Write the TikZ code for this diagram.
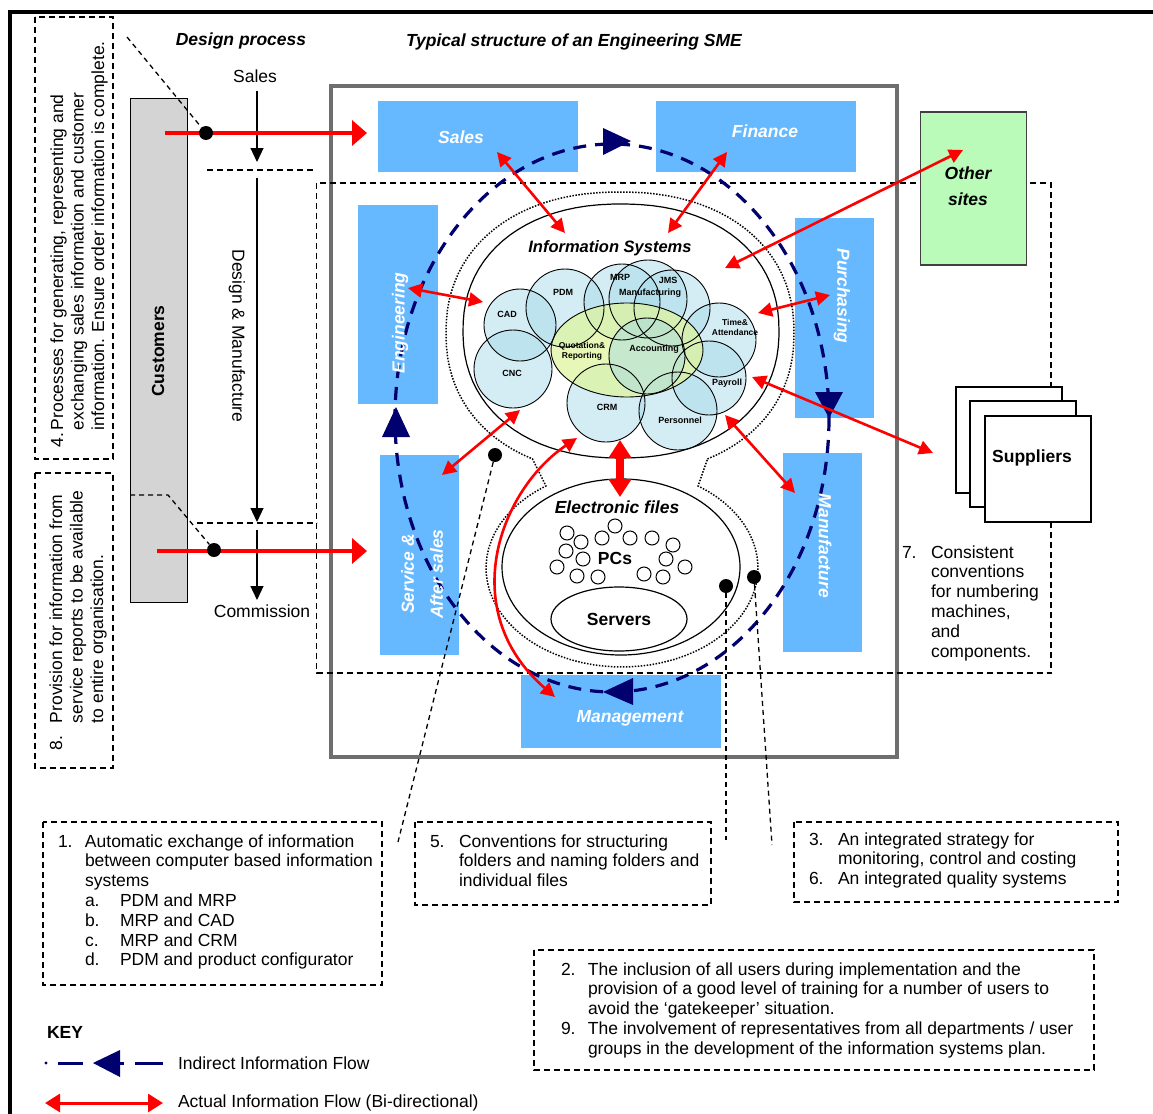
\documentclass[tikz,border=0pt]{standalone}
\usepackage{fontspec}
\setmainfont{Liberation Sans}
\usepackage{array}
\usetikzlibrary{arrows.meta,shapes.geometric}
\definecolor{boxblue}{RGB}{102,184,255}
\definecolor{sitegreen}{RGB}{186,251,186}
\definecolor{custgray}{RGB}{212,212,212}
\definecolor{navyblue}{RGB}{0,0,110}
\definecolor{framegray}{RGB}{110,110,110}
\definecolor{iscyan}{RGB}{160,215,230}
\definecolor{quoteyel}{RGB}{222,244,160}
\newcommand{\bsz}{\fontsize{17.5}{19.8}\selectfont}
\newcommand{\lblsz}{\fontsize{9}{10}\selectfont\bfseries}
\begin{document}
\begin{tikzpicture}[x=1pt,y=-1pt,
  txt/.style={inner sep=0pt, outer sep=0pt, font=\bsz},
  dbox/.style={draw=black, line width=1.1pt, dash pattern=on 6pt off 4pt},
  bluebox/.style={fill=boxblue, draw=none, inner sep=0pt, outer sep=0pt},
  blbl/.style={inner sep=0pt, text=white, font=\bsz\bfseries\itshape, align=center},
  redarr/.style={draw=red, line width=2.6pt, {Triangle[length=14pt,width=14pt]}-{Triangle[length=14pt,width=14pt]}},
  redone/.style={draw=red, line width=4.5pt, -{Triangle[length=15pt,width=25pt]}},
  blkarr/.style={draw=black, line width=1.2pt, -{Triangle[length=14pt,width=13pt]}},
  isc/.style={fill=iscyan, fill opacity=0.45},
  islbl/.style={inner sep=0pt, font=\lblsz, align=center},
  blackdot/.style={circle, fill=black, inner sep=0pt, minimum size=14pt},
  leader/.style={draw=black, line width=1.3pt, dash pattern=on 5pt off 4pt},
  navyline/.style={draw=navyblue, line width=3.2pt, dash pattern=on 13pt off 9pt},
  pc/.style={draw=black, line width=1pt, fill=white}
]
\useasboundingbox (0,0) rectangle (1153,1113);
% outer frame
\draw[line width=4pt] (9.5,1130) -- (9.5,12.5) -- (1170,12.5);

% side boxes 4 and 8
\draw[dbox] (35,17) rectangle (113,459);
\node[txt, rotate=90, anchor=base west, font=\fontsize{17.5}{20.5}\selectfont] (t4) at (63,447)
 {\begin{tabular}[t]{@{}p{17pt}@{}l@{}}4.&Processes for generating, representing and\\&exchanging sales information and customer\\&information. Ensure order information is complete.\end{tabular}};
\draw[dbox] (35,473) rectangle (113,768);
\node[txt, rotate=90, anchor=base west, font=\fontsize{17.5}{20.5}\selectfont] (t8) at (62,750)
 {\begin{tabular}[t]{@{}p{27pt}@{}l@{}}8.&Provision for information from\\&service reports to be available\\&to entire organisation.\end{tabular}};

% titles
\node[txt, font=\bsz\bfseries\itshape] (dp) at (241,41) {Design process};
\node[txt, font=\bsz\bfseries\itshape] (ts) at (574,42) {Typical structure of an Engineering SME};

% customers
\node[draw=black, line width=1pt, fill=custgray, minimum width=57pt, minimum height=503pt, inner sep=0pt] (cust) at (158.5,350.5) {};
\node[txt, rotate=90, font=\bsz\bfseries] (custl) at (158,351) {Customers};

% design process column
\node[txt] (dsales) at (255,76) {Sales};
\coordinate (a1s) at (257,91); \coordinate (a1e) at (257,162);
\coordinate (a2s) at (257,178); \coordinate (a2e) at (257,522);
\coordinate (a3s) at (257,530); \coordinate (a3e) at (257,600);
\draw[blkarr] (a1s) -- (a1e);
\draw[dbox] (207,170) -- (313,170);
\draw[blkarr] (a2s) -- (a2e);
\draw[dbox] (197,523) -- (317,523);
\draw[blkarr] (a3s) -- (a3e);
\node[txt] (comm) at (262,611) {Commission};
\node[txt, rotate=-90] (dm) at (237,336) {Design \& Manufacture};

% grey frame and dashed region
\draw[framegray, line width=4pt] (331,86) rectangle (897,757);
\draw[dbox] (316.5,183) rectangle (1051,673);

% blue boxes
\node[bluebox, minimum width=200pt, minimum height=71pt] (sales) at (478,136.5) {};
\node[bluebox, minimum width=200pt, minimum height=71pt] (fin) at (756,136.5) {};
\node[bluebox, minimum width=80pt, minimum height=199pt] (eng) at (398,304.5) {};
\node[bluebox, minimum width=79pt, minimum height=200pt] (serv) at (419.5,555) {};
\node[bluebox, minimum width=79pt, minimum height=200pt] (purch) at (834.5,318) {};
\node[bluebox, minimum width=79pt, minimum height=199pt] (manu) at (822.5,552.5) {};
\node[bluebox, minimum width=200pt, minimum height=73pt] (mgmt) at (621,711.5) {};

% other sites and suppliers
\node[draw=black!75, line width=1.2pt, fill=sitegreen, minimum width=106pt, minimum height=153pt, inner sep=0pt] (other) at (973.5,188.5) {};
\node[txt, font=\fontsize{17.5}{26}\selectfont\bfseries\itshape, align=center] (otherl) at (968,186) {Other\\sites};
\draw[line width=1.2pt, fill=white] (956,387) rectangle (1062,493);
\draw[line width=1.2pt, fill=white] (970,401) rectangle (1076,507);
\node[draw, line width=1.2pt, fill=white, minimum width=106pt, minimum height=106pt, inner sep=0pt] (supp) at (1038,469) {};
\node[txt, font=\bsz\bfseries] (suppl) at (1032,458) {Suppliers};

% text 7
\node[txt, anchor=base west] (t7) at (902,558)
 {\begin{tabular}[t]{@{}p{29pt}@{}l@{}}7.&Consistent\\&conventions\\&for numbering\\&machines,\\&and\\&components.\end{tabular}};

% peanut dotted outline
\draw[line width=1.5pt, dash pattern=on 1.5pt off 1.5pt]
  plot[variable=\t, domain=-62:242, samples=80]
   ({620+174*sign(cos(\t))*max(abs(cos(\t)),0.0001)^0.909}, {333-141*sign(sin(\t))*max(abs(sin(\t)),0.0001)^0.909})
  -- plot[variable=\t, domain=124:416, samples=60] ({622+136*cos(\t)}, {568-99*sin(\t)}) -- cycle;
% information systems outline
\draw[line width=1.2pt]
  plot[variable=\t, domain=0:358, samples=90]
   ({621+158*sign(cos(\t))*max(abs(cos(\t)),0.0001)^0.909}, {331-127*sign(sin(\t))*max(abs(sin(\t)),0.0001)^0.909}) -- cycle;

% IS circles
\foreach \cx/\cy/\r in {520/325/36, 513/369/39, 565/308/39, 622/302/38, 648/299/39, 672/308/38, 719/340/37, 709/378/37, 678/411/39, 606/403/39}
  {\path[isc] (\cx,\cy) circle [radius=\r];}
\path[fill=quoteyel, fill opacity=0.75] (627,350) ellipse [x radius=76, y radius=47];
\path[isc] (647,356) circle [radius=38];
\foreach \cx/\cy/\r in {520/325/36, 513/369/39, 565/308/39, 622/302/38, 648/299/39, 672/308/38, 719/340/37, 709/378/37, 678/411/39, 606/403/39, 647/356/38}
  {\draw[line width=0.9pt] (\cx,\cy) circle [radius=\r];}
\draw[line width=0.9pt] (627,350) ellipse [x radius=76, y radius=47];
\node[txt, font=\fontsize{16.5}{18}\selectfont\bfseries\itshape] (isl) at (610,248) {Information Systems};
\node[islbl] (cad) at (507,314) {CAD};
\node[islbl] (cnc) at (512,373) {CNC};
\node[islbl] (pdm) at (563,292) {PDM};
\node[islbl] (mrp) at (620,277) {MRP};
\node[islbl] (jms) at (668,280) {JMS};
\node[islbl] (mfg) at (650,293) {Manufacturing};
\node[islbl, font=\fontsize{8.5}{10}\selectfont\bfseries] (time) at (735,327) {Time\&\\Attendance};
\node[islbl, font=\fontsize{8.5}{10}\selectfont\bfseries] (quot) at (582,351) {Quotation\&\\Reporting};
\node[islbl] (acc) at (654,349) {Accounting};
\node[islbl] (pay) at (727,383) {Payroll};
\node[islbl] (crm) at (607,407) {CRM};
\node[islbl] (pers) at (680,420) {Personnel};

% electronic files
\node[draw, ellipse, line width=1.2pt, minimum width=238pt, minimum height=176pt, inner sep=0pt] (ef) at (621,567) {};
\node[txt, font=\bsz\bfseries\itshape] (efl) at (617,507) {Electronic files};
\foreach \px/\py [count=\i] in {567/533,581/542,602/538,615/526,630/538,652/538,673/545,566/551,583/559,557/567,577/576,598/577,644/574,663/577,666/559,685/567}
  {\node[pc, circle, inner sep=0pt, minimum size=14pt] (pc\i) at (\px,\py) {};}
\node[txt, font=\bsz\bfseries] (pcs) at (615,558) {PCs};
\node[draw, ellipse, line width=1.2pt, minimum width=136pt, minimum height=64pt, inner sep=0pt, font=\bsz\bfseries] (srv) at (619,619) {Servers};

% indirect information flow
\draw[navyline] (612,418) ellipse [x radius=217, y radius=274];
\fill[navyblue] (603,128) -- (603,155) -- (631,141) -- cycle;
\fill[navyblue] (815,392) -- (843,392) -- (829,418) -- cycle;
\fill[navyblue] (633,678) -- (633,705) -- (603,692) -- cycle;
\fill[navyblue] (382,437) -- (410,437) -- (396,407) -- cycle;

% blue box labels
\node[blbl] (salesl) at (461,137) {Sales};
\node[blbl] (finl) at (765,131) {Finance};
\node[blbl, rotate=90] (engl) at (400,323) {Engineering};
\node[blbl, rotate=90, font=\fontsize{17.5}{29}\selectfont\bfseries\itshape] (servl) at (422,574) {Service \&\\After sales};
\node[blbl, rotate=-90] (purchl) at (842,296) {Purchasing};
\node[blbl, rotate=-90] (manul) at (825,546) {Manufacture};
\node[blbl] (mgmtl) at (630,718) {Management};

% actual information flows
\coordinate (r1a) at (497,152); \coordinate (r1b) at (565,233);
\coordinate (r2a) at (727,152); \coordinate (r2b) at (668,233);
\coordinate (r3a) at (725,268); \coordinate (r3b) at (963,150);
\coordinate (r4a) at (408,288); \coordinate (r4b) at (483,302);
\coordinate (r5a) at (758,313); \coordinate (r5b) at (830,295);
\coordinate (r6a) at (752,377); \coordinate (r6b) at (933,453);
\coordinate (r7a) at (725,415); \coordinate (r7b) at (795,493);
\coordinate (r8a) at (442,475); \coordinate (r8b) at (520,410);
\coordinate (r9a) at (620,440); \coordinate (r9b) at (620,497);
\coordinate (r10a) at (577,438); \coordinate (r10b) at (555,697);
\draw[redarr] (r1a) -- (r1b);
\draw[redarr] (r2a) -- (r2b);
\draw[redarr] (r3a) -- (r3b);
\draw[redarr] (r4a) -- (r4b);
\draw[redarr] (r5a) -- (r5b);
\draw[redarr] (r6a) -- (r6b);
\draw[redarr] (r7a) -- (r7b);
\draw[redarr] (r8a) -- (r8b);
\draw[draw=red, line width=8pt, {Triangle[length=18pt,width=22pt]}-{Triangle[length=18pt,width=22pt]}] (r9a) -- (r9b);
\draw[redarr] (r10a) .. controls (500,490) and (455,610) .. (r10b);

% customer flows
\coordinate (c1s) at (165,133); \coordinate (c1e) at (367,133);
\coordinate (c2s) at (157,551); \coordinate (c2e) at (367,551);
\draw[redone] (c1s) -- (c1e);
\draw[redone] (c2s) -- (c2e);
\node[blackdot] (d1) at (206,133) {};
\node[blackdot] (d2) at (214,550) {};
\coordinate (b4c) at (127,37);
\draw[leader] (b4c) -- (d1);
\coordinate (b8a) at (130,495); \coordinate (b8b) at (168,495);
\draw[leader] (b8a) -- (b8b) -- (d2);

% leaders to notes
\node[blackdot] (d3) at (495,455) {};
\node[blackdot] (d4) at (726,586) {};
\node[blackdot] (d5) at (754,577) {};
\coordinate (n5l) at (398,842); \coordinate (n5r) at (726,840); \coordinate (n3l) at (772,845);
\draw[leader] (d3) -- (n5l);
\draw[leader] (d4) -- (n5r);
\draw[leader] (d5) -- (n3l);

% note boxes
\draw[dbox] (43,822) rectangle (382,985);
\node[txt, anchor=base west] (t1) at (58,847)
 {\begin{tabular}[t]{@{}p{27pt}@{}p{35pt}@{}l@{}}1.&\multicolumn{2}{@{}l@{}}{Automatic exchange of information}\\&\multicolumn{2}{@{}l@{}}{between computer based information}\\&\multicolumn{2}{@{}l@{}}{systems}\\&a.&PDM and MRP\\&b.&MRP and CAD\\&c.&MRP and CRM\\&d.&PDM and product configurator\end{tabular}};
\draw[dbox] (415,822) rectangle (711,905);
\node[txt, anchor=base west] (t5) at (430,847)
 {\begin{tabular}[t]{@{}p{29pt}@{}l@{}}5.&Conventions for structuring\\&folders and naming folders and\\&individual files\end{tabular}};
\draw[dbox] (794,822) rectangle (1118,902);
\node[txt, anchor=base west] (t3) at (809,845)
 {\begin{tabular}[t]{@{}p{29pt}@{}l@{}}3.&An integrated strategy for\\&monitoring, control and costing\\6.&An integrated quality systems\end{tabular}};
\draw[dbox] (534,950) rectangle (1094,1070);
\node[txt, anchor=base west] (t2) at (561,975)
 {\begin{tabular}[t]{@{}p{27pt}@{}l@{}}2.&The inclusion of all users during implementation and the\\&provision of a good level of training for a number of users to\\&avoid the `gatekeeper' situation.\\9.&The involvement of representatives from all departments / user\\&groups in the development of the information systems plan.\end{tabular}};

% key
\node[txt, font=\bsz\bfseries, anchor=west] (key) at (47,1032) {KEY};
\fill[navyblue] (46,1063) circle [radius=1.6];
\draw[navyblue, line width=3pt] (58,1063) -- (83,1063);
\draw[navyblue, line width=3pt] (118,1063) -- (124,1063);
\draw[navyblue, line width=3pt] (135,1063) -- (163,1063);
\fill[navyblue] (93,1063) -- (120,1050) -- (120,1077) -- cycle;
\node[txt, anchor=west] (k1) at (178,1063) {Indirect Information Flow};
\coordinate (k2a) at (45,1103); \coordinate (k2b) at (163,1103);
\draw[draw=red, line width=3pt, {Triangle[length=15pt,width=18pt]}-{Triangle[length=15pt,width=18pt]}] (k2a) -- (k2b);
\node[txt, anchor=west] (k2) at (178,1103) {Actual Information Flow (Bi-directional)};
\end{tikzpicture}
\end{document}
